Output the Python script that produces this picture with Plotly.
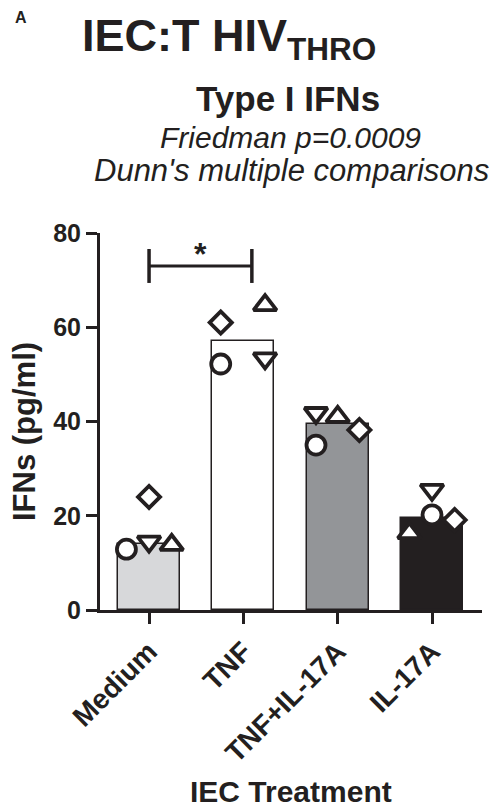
import plotly.graph_objects as go

# ---------------- data ----------------
categories = ["Medium", "TNF", "TNF+IL-17A", "IL-17A"]
bar_values = [14.0, 57.0, 39.5, 19.5]
bar_colors = ["#D7D8DA", "#FFFFFF", "#939598", "#231F20"]

donor_circle = [12.9, 52.2, 35.0, 20.2]
donor_tri_down = [14.5, 53.4, 41.8, 25.5]
donor_tri_up = [13.8, 64.7, 41.0, 16.3]
donor_diamond = [24.0, 61.0, 38.2, 19.1]

# horizontal jitter (category units) for each donor's point
jit_circle = [-0.24, -0.24, -0.23, 0.0]
jit_tri_down = [0.0, 0.23, -0.23, 0.0]
jit_tri_up = [0.24, 0.23, 0.0, -0.24]
jit_diamond = [0.0, -0.24, 0.23, 0.24]

y_ticks = [0, 20, 40, 60, 80]
sig_x = [0, 1.09]
sig_y = 73.0
sig_tick = [69.4, 76.6]

# ---------------- layout geometry ----------------
W, H = 497, 809
L, R, T, B = 100, 482, 233, 610
INK = "#231F20"
FONT = "Liberation Sans, Arial, Helvetica, sans-serif"


def px(xp):
    return (xp - L) / (R - L)


def py(yp):
    return (B - yp) / (B - T)


fig = go.Figure()

fig.add_trace(go.Bar(
    x=list(range(len(categories))), y=bar_values, width=0.66,
    marker=dict(color=bar_colors, line=dict(color=INK, width=1.5)),
    showlegend=False, hoverinfo="skip"))

donors = [
    (donor_tri_down, jit_tri_down, "triangle-down", 20),
    (donor_tri_up, jit_tri_up, "triangle-up", 20),
    (donor_diamond, jit_diamond, "diamond", 17),
    (donor_circle, jit_circle, "circle", 19),
]
for vals, jit, sym, size in donors:
    fig.add_trace(go.Scatter(
        x=[i + j for i, j in enumerate(jit)], y=vals, mode="markers",
        marker=dict(symbol=sym, size=size, color="white",
                    line=dict(color=INK, width=3.8)),
        showlegend=False, cliponaxis=False))

# significance bracket
fig.add_shape(type="line", xref="x", yref="y", x0=sig_x[0], x1=sig_x[1],
              y0=sig_y, y1=sig_y, line=dict(color=INK, width=3))
for xv in sig_x:
    fig.add_shape(type="line", xref="x", yref="y", x0=xv, x1=xv,
                  y0=sig_tick[0], y1=sig_tick[1], line=dict(color=INK, width=3.5))
fig.add_annotation(x=(sig_x[0] + sig_x[1]) / 2, y=sig_y, xref="x", yref="y",
                   text="<b>*</b>", showarrow=False, yanchor="bottom",
                   font=dict(family=FONT, size=32, color=INK), yshift=-8)

ann = [
    dict(text="<b>A</b>", x=px(21), y=py(17), size=16, xanchor="center"),
    dict(text="<b>IEC:T HIV<sub>THRO</sub></b>", x=px(80), y=py(38), size=45,
         xanchor="left"),
    dict(text="<b>Type I IFNs</b>", x=px(288), y=py(98), size=35,
         xanchor="center"),
    dict(text="<i>Friedman p=0.0009</i>", x=px(290), y=py(137), size=30,
         xanchor="center"),
    dict(text="<i>Dunn's multiple comparisons</i>", x=px(291), y=py(170),
         size=31, xanchor="center"),
    dict(text="<b>IEC Treatment</b>", x=px(291), y=py(791), size=30,
         xanchor="center"),
]
for a in ann:
    fig.add_annotation(text=a["text"], x=a["x"], y=a["y"], xref="paper",
                       yref="paper", showarrow=False, xanchor=a["xanchor"],
                       yanchor="middle",
                       font=dict(family=FONT, size=a["size"], color=INK))

fig.add_annotation(text="<b>IFNs (pg/ml)</b>", x=px(24), y=py(432),
                   xref="paper", yref="paper", showarrow=False, textangle=-90,
                   xanchor="center", yanchor="middle",
                   font=dict(family=FONT, size=31, color=INK))

fig.update_layout(
    width=W, height=H, autosize=False,
    margin=dict(l=L, r=W - R, t=T, b=H - B, pad=0),
    paper_bgcolor="white", plot_bgcolor="white",
    bargap=0,
    xaxis=dict(range=[-0.52, 3.53], tickmode="array",
               tickvals=list(range(len(categories))),
               ticktext=["<b>%s</b>" % c for c in categories],
               tickangle=-45, ticks="outside", ticklen=11, tickwidth=3,
               tickcolor=INK, showline=True, linecolor=INK, linewidth=3,
               showgrid=False, zeroline=False,
               tickfont=dict(family=FONT, size=28, color=INK)),
    yaxis=dict(range=[0, 80], tickmode="array", tickvals=y_ticks,
               ticktext=["<b>%d</b>" % v for v in y_ticks],
               ticks="outside", ticklen=11, tickwidth=3, tickcolor=INK,
               showline=True, linecolor=INK, linewidth=3, showgrid=False,
               zeroline=False,
               tickfont=dict(family=FONT, size=25, color=INK)),
)

fig.write_html("out.html")
